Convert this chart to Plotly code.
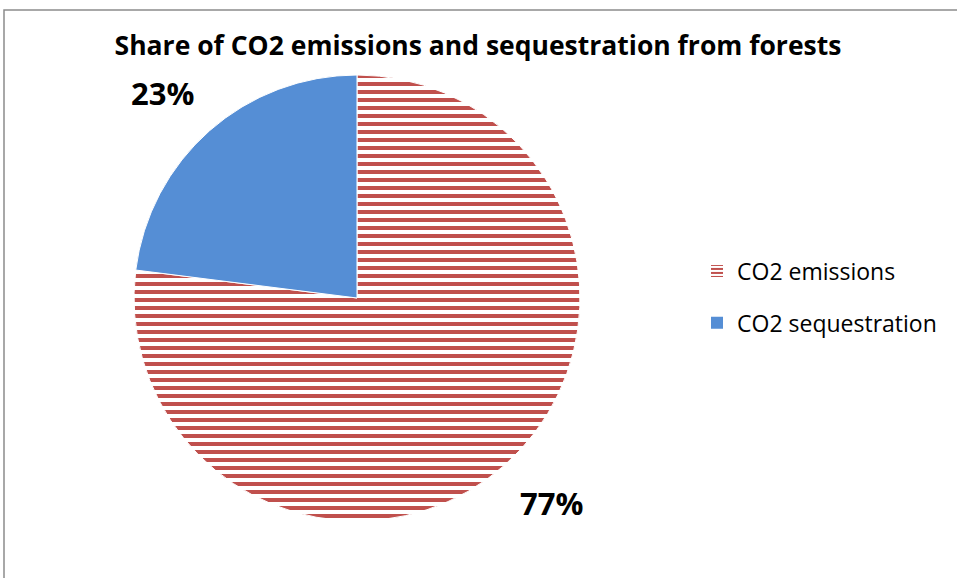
import math
import plotly.graph_objects as go

labels = ["CO2 emissions", "CO2 sequestration"]
values = [77, 23]
colors = ["#C0504D", "#558ED5"]
title_text = "Share of CO2 emissions and sequestration from forests"

W, H = 957, 578
cx, cy, r = 357, 298, 223
FONT = "Open Sans"

fig = go.Figure()
fig.add_trace(go.Pie(
    labels=labels,
    values=values,
    sort=False,
    direction="clockwise",
    rotation=0,
    textinfo="none",
    showlegend=False,
    marker=dict(
        colors=["white", colors[1]],
        line=dict(color="white", width=1),
        pattern=dict(shape=["-", ""], fgcolor=[colors[0], colors[1]],
                     bgcolor=["white", colors[1]], size=8, solidity=0.5,
                     fillmode="replace"),
    ),
    domain=dict(x=[(cx - r) / W, (cx + r) / W], y=[(H - cy - r) / H, (H - cy + r) / H]),
    hoverinfo="label+percent",
))

# legend entries (one group each so the entries can be spaced apart)
for i, lab in enumerate(labels):
    if i == 0:
        mk = dict(color="white", line=dict(width=0),
                  pattern=dict(shape="-", fgcolor=colors[0], bgcolor="white",
                               size=5, solidity=0.5, fillmode="replace"))
    else:
        mk = dict(color=colors[1], line=dict(width=0))
    fig.add_trace(go.Bar(x=[None], y=[None], name=lab, legendgroup=lab,
                         marker=mk, showlegend=True, hoverinfo="skip"))

# percentage labels placed outside each slice, from the data
total = sum(values)
annotations = []
start = 0.0
R = r * 1.09
for v in values:
    frac = v / total
    mid = (start + frac / 2) * 2 * math.pi
    start += frac
    sx, sy = math.sin(mid), math.cos(mid)
    px = cx + sx * R
    py = cy - sy * R
    annotations.append(dict(
        x=px / W, y=1 - py / H, xref="paper", yref="paper",
        text="<b>%d%%</b>" % round(frac * 100), showarrow=False,
        xanchor="left" if sx > 0 else "right",
        yanchor="bottom" if sy > 0 else "top",
        font=dict(family=FONT, size=31, color="black"),
    ))

fig.update_layout(
    width=W, height=H,
    margin=dict(l=0, r=0, t=0, b=0),
    paper_bgcolor="white",
    plot_bgcolor="white",
    xaxis=dict(visible=False),
    yaxis=dict(visible=False),
    title=dict(text="<b>" + title_text + "</b>", x=478 / W, xanchor="center",
               y=1 - 46 / H, yanchor="middle",
               font=dict(family=FONT, size=26.5, color="black")),
    legend=dict(x=697 / W, xanchor="left", y=1 - 297 / H, yanchor="middle",
                font=dict(family=FONT, size=23, color="black"),
                tracegroupgap=19),
    annotations=annotations,
    shapes=[dict(type="rect", xref="paper", yref="paper",
                 x0=4 / W, x1=1.01, y0=-0.01, y1=1 - 10 / H,
                 line=dict(color="#8c8c8c", width=1.5))],
)

fig.write_html("out.html")
